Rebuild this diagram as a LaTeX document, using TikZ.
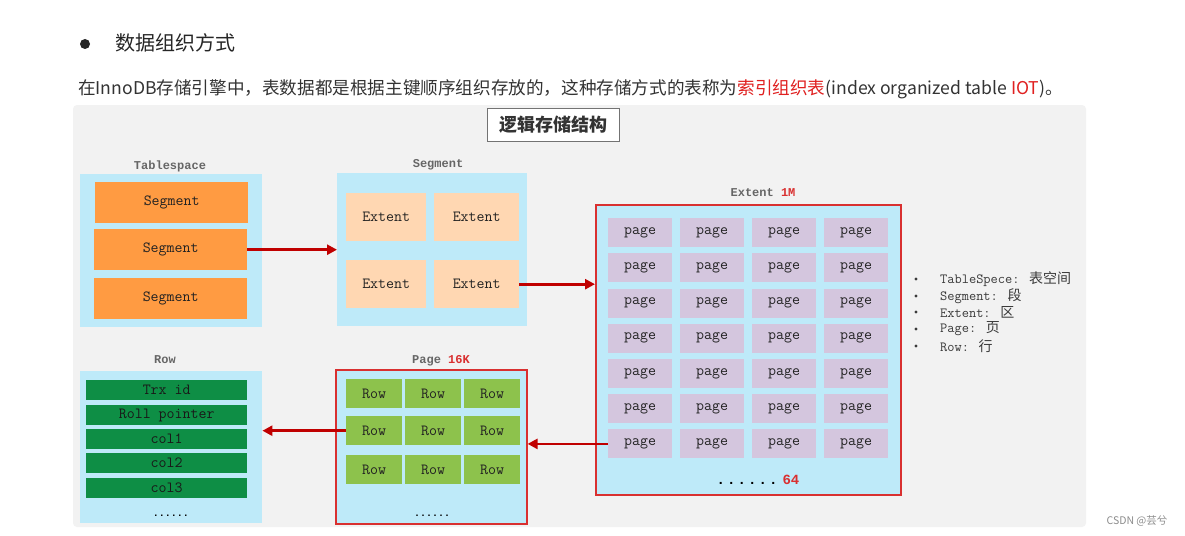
\documentclass[tikz,border=0pt]{standalone}
\usepackage{fontspec}
\setmainfont{Noto Sans CJK SC}
\newfontfamily\cjk{Noto Sans CJK SC}
\newfontfamily\mono{Liberation Mono}
\newfontfamily\cour{Latin Modern Mono}
\usetikzlibrary{arrows.meta}
\definecolor{bgray}{HTML}{F2F2F2}
\definecolor{lblue}{HTML}{BEEAF9}
\definecolor{segor}{HTML}{FF9B42}
\definecolor{peach}{HTML}{FFD7B2}
\definecolor{lilac}{HTML}{D4C6DE}
\definecolor{dgreen}{HTML}{0E8E45}
\definecolor{lgreen}{HTML}{8DC24C}
\definecolor{bred}{HTML}{D93030}
\definecolor{ared}{HTML}{C00000}
\definecolor{hred}{HTML}{E02020}
\definecolor{ltxt}{HTML}{666666}
\definecolor{btxt}{HTML}{222222}
\definecolor{mtxt}{HTML}{3A3A3A}
\tikzset{
  cont/.style={fill=lblue, draw=none, inner sep=0, anchor=north west},
  redcont/.style={fill=lblue, draw=bred, line width=1.6pt, inner sep=0, anchor=north west},
  cell/.style={inner sep=0, anchor=north west, font=\cour\fontsize{15.5}{17}\selectfont, text=btxt},
  seg/.style={cell, fill=segor, minimum width=153, minimum height=41},
  ext/.style={cell, fill=peach, minimum width=80, minimum height=48},
  pg/.style={cell, fill=lilac, minimum width=64, minimum height=29},
  rw/.style={cell, fill=lgreen, minimum width=56, minimum height=29},
  col/.style={cell, fill=dgreen, minimum width=161, minimum height=20, text=black!90},
  ctitle/.style={inner sep=0, font=\mono\bfseries\fontsize{12}{14}\selectfont, text=ltxt},
  arr/.style={draw=ared, line width=2.8pt, -{Triangle[length=10pt,width=10pt]}},
  legend/.style={inner sep=0, anchor=west, font=\cour\fontsize{14}{16}\selectfont, text=mtxt},
}
\begin{document}
\begin{tikzpicture}[x=1pt,y=-1pt]
\useasboundingbox (0,0) rectangle (1185,535);
\fill[white] (0,0) rectangle (1185,535);
% header
\fill[black!85] (85,44) circle (5);
\node[inner sep=0, anchor=west, font=\cjk\fontsize{20}{24}\selectfont, text=black!85] (title) at (115,43) {数据组织方式};
\node[inner sep=0, anchor=west, font=\cjk\fontsize{17.6}{20}\selectfont, text=black!80] (intro) at (78,89)
  {在InnoDB存储引擎中，表数据都是根据主键顺序组织存放的，这种存储方式的表称为\textcolor{hred}{索引组织表}(index organized table \textcolor{hred}{IOT})。};
% background
\fill[bgray, rounded corners=4pt] (73,105) rectangle (1086,527);
\node[draw=black!55, line width=1pt, fill=white, minimum width=132, minimum height=33, inner sep=0, anchor=north west,
  font=\cjk\bfseries\fontsize{18}{20}\selectfont, text=black!80] (hdr) at (487,108) {逻辑存储结构};
% Tablespace
\node[ctitle] (tst) at (170,166) {Tablespace};
\node[cont, minimum width=182, minimum height=153] (tsbox) at (80,174) {};
\node[seg] (s1) at (95,182) {Segment};
\node[seg] (s2) at (94,229) {Segment};
\node[seg] (s3) at (94,278) {Segment};
% Segment
\node[ctitle] (sgt) at (438,165) {Segment};
\node[cont, minimum width=190, minimum height=153] (sgbox) at (337,173) {};
\node[ext] (e1) at (346,193) {Extent};
\node[ext, minimum width=85] (e2) at (434,193) {Extent};
\node[ext] (e3) at (346,260) {Extent};
\node[ext, minimum width=85] (e4) at (434,260) {Extent};
% Extent
\node[ctitle] (ext) at (763,193) {Extent \textcolor{bred}{1M}};
\node[redcont, minimum width=305, minimum height=290] (exbox) at (595,204) {};
\foreach \r/\y in {1/218,2/253.2,3/288.4,4/323.6,5/358.8,6/394,7/429.2}{
  \foreach \c/\x in {1/608,2/680,3/752,4/824}{
    \node[pg] (p\r\c) at (\x,\y) {page};
  }
}
\node[inner sep=0, font=\mono\bfseries\fontsize{14}{16}\selectfont, text=black] (exdots) at (758,480) {{\addfontfeature{LetterSpace=15}......}\hspace{5pt}\textcolor{bred}{64}};
% legend
\foreach \i/\y/\t in {1/279/{TableSpece: \cjk 表空间},2/296/{Segment: \cjk 段},3/312/{Extent: \cjk 区},4/329/{Page: \cjk 页},5/346/{Row: \cjk 行}}{
  \fill[mtxt] (916,\y) circle (1.6);
  \node[legend] (lg\i) at (940,\y) {\t};
}
% Page
\node[ctitle] (pgt) at (441,361) {Page \textcolor{bred}{16K}};
\node[redcont, minimum width=191, minimum height=154] (pgbox) at (335,369) {};
\foreach \r/\y in {1/379,2/416,3/455}{
  \foreach \c/\x in {1/346,2/405,3/464}{
    \node[rw] (r\r\c) at (\x,\y) {Row};
  }
}
\node[inner sep=0, font=\mono\bfseries\fontsize{10}{10}\selectfont, text=black] (pgdots) at (432,516) {......};
% Row
\node[ctitle] (rwt) at (165,360) {Row};
\node[cont, minimum width=182, minimum height=152] (rwbox) at (80,371) {};
\node[col] (c1) at (86,380) {Trx id};
\node[col] (c2) at (86,405) {Roll pointer};
\node[col] (c3) at (86,429) {col1};
\node[col] (c4) at (86,453) {col2};
\node[col] (c5) at (86,478) {col3};
\node[inner sep=0, font=\mono\bfseries\fontsize{10}{10}\selectfont, text=black] (rwdots) at (171,516) {......};
% arrows
\draw[arr] (s2.east) -- (sgbox.west |- s2.east);
\draw[arr] (e4.east) -- (exbox.west |- e4.east);
\draw[arr] (p71.west) -- (pgbox.east |- p71.west);
\draw[arr] (r21.west) -- (rwbox.east |- r21.west);
% watermark
\node[inner sep=0, font=\cjk\fontsize{10.5}{12}\selectfont, text=black!45] (wm) at (1137,521) {CSDN @芸兮};
\end{tikzpicture}
\end{document}
